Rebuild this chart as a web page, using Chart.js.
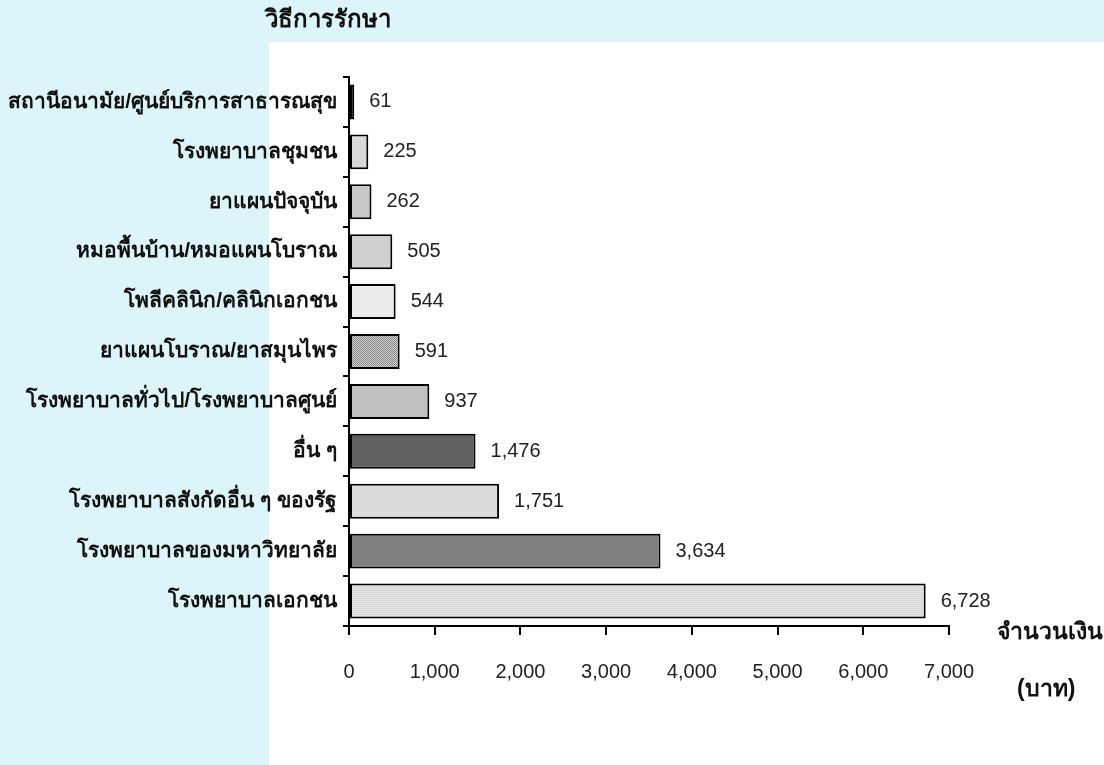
<!DOCTYPE html>
<html>
<head>
<meta charset="utf-8">
<script src="https://cdn.jsdelivr.net/npm/chart.js@4.4.0/dist/chart.umd.min.js"></script>
<style>
  html, body { margin: 0; padding: 0; }
  body { width: 1104px; height: 765px; background: #ddf5fa; position: relative; overflow: hidden;
         font-family: "Liberation Sans", Arial, sans-serif; }
  .white { position: absolute; left: 269px; top: 42px; right: 0; bottom: 0; background: #fff; }
  .wrap { position: absolute; left: 0; top: 0; width: 1104px; height: 765px; }
  .lbl { position: absolute; font-weight: bold; font-size: 23px; color: #111; white-space: nowrap; line-height: 1; }
</style>
</head>
<body>
<div class="white"></div>
<div class="wrap"><canvas id="chart" width="1104" height="765"></canvas></div>
<div class="lbl" style="left:265px; top:7px; font-size:24px;">วิธีการรักษา</div>
<div class="lbl" style="left:997px; top:620px;">จำนวนเงิน</div>
<div class="lbl" style="left:1017px; top:677px;">(บาท)</div>
<script>
// Data (top to bottom as in the picture)
const categories = [
  'สถานีอนามัย/ศูนย์บริการสาธารณสุข',
  'โรงพยาบาลชุมชน',
  'ยาแผนปัจจุบัน',
  'หมอพื้นบ้าน/หมอแผนโบราณ',
  'โพลีคลินิก/คลินิกเอกชน',
  'ยาแผนโบราณ/ยาสมุนไพร',
  'โรงพยาบาลทั่วไป/โรงพยาบาลศูนย์',
  'อื่น ๆ',
  'โรงพยาบาลสังกัดอื่น ๆ ของรัฐ',
  'โรงพยาบาลของมหาวิทยาลัย',
  'โรงพยาบาลเอกชน'
];
const amounts = [61, 225, 262, 505, 544, 591, 937, 1476, 1751, 3634, 6728];
const xTicks = [0, 1000, 2000, 3000, 4000, 5000, 6000, 7000];

// fill patterns for the bars
function dotPattern(bg, fg) {
  const c = document.createElement('canvas');
  c.width = 2; c.height = 2;
  const g = c.getContext('2d');
  g.fillStyle = bg; g.fillRect(0, 0, 2, 2);
  g.fillStyle = fg; g.fillRect(0, 0, 1, 1); g.fillRect(1, 1, 1, 1);
  return g.createPattern(c, 'repeat');
}
function linePattern(bg, fg) {
  const c = document.createElement('canvas');
  c.width = 2; c.height = 2;
  const g = c.getContext('2d');
  g.fillStyle = bg; g.fillRect(0, 0, 2, 2);
  g.fillStyle = fg; g.fillRect(0, 0, 2, 1);
  return g.createPattern(c, 'repeat');
}
const fills = [
  dotPattern('#555', '#111'),
  '#d9d9d9',
  '#c8c8c8',
  '#d0d0d0',
  dotPattern('#f4f4f4', '#e2e2e2'),
  dotPattern('#d0d0d0', '#888'),
  '#c0c0c0',
  '#606060',
  '#dadada',
  '#808080',
  linePattern('#e6e6e6', '#d4d4d4')
];

const numFont = '20px "Liberation Sans", Arial, sans-serif';

const valueLabels = {
  id: 'valueLabels',
  afterDatasetsDraw(chart) {
    const ctx = chart.ctx;
    const meta = chart.getDatasetMeta(0);
    ctx.save();
    ctx.font = numFont;
    ctx.fillStyle = '#222';
    ctx.textAlign = 'left';
    ctx.textBaseline = 'middle';
    meta.data.forEach((bar, i) => {
      ctx.fillText(amounts[i].toLocaleString('en-US'), bar.x + 15, bar.y);
    });
    ctx.restore();
  }
};

new Chart(document.getElementById('chart'), {
  type: 'bar',
  data: {
    labels: categories,
    datasets: [{
      data: amounts,
      backgroundColor: fills,
      borderColor: '#000',
      borderWidth: 2,
      borderSkipped: false,
      barPercentage: 0.7,
      categoryPercentage: 1
    }]
  },
  options: {
    indexAxis: 'y',
    responsive: false,
    animation: false,
    layout: { padding: { top: 77, right: 155, left: 0, bottom: 0 } },
    plugins: { legend: { display: false }, tooltip: { enabled: false } },
    scales: {
      x: {
        min: 0, max: 7000,
        afterBuildTicks(scale) { scale.ticks = xTicks.map(v => ({ value: v })); },
        afterFit(scale) { scale.height = 139; },
        border: { color: '#000', width: 2 },
        grid: { drawOnChartArea: false, drawTicks: true, tickLength: 9, color: '#000', lineWidth: 2 },
        ticks: {
          padding: 25,
          color: '#222',
          font: { family: '"Liberation Sans", Arial, sans-serif', size: 20 },
          callback: v => v.toLocaleString('en-US')
        }
      },
      y: {
        afterFit(scale) { scale.width = 349; },
        border: { color: '#000', width: 2 },
        grid: { offset: true, drawOnChartArea: false, drawTicks: true, tickLength: 6, color: '#000', lineWidth: 2 },
        ticks: {
          padding: 6,
          color: '#111',
          font: { family: '"Liberation Sans", Arial, sans-serif', size: 21, weight: 'bold' }
        }
      }
    }
  },
  plugins: [valueLabels]
});
</script>
</body>
</html>
